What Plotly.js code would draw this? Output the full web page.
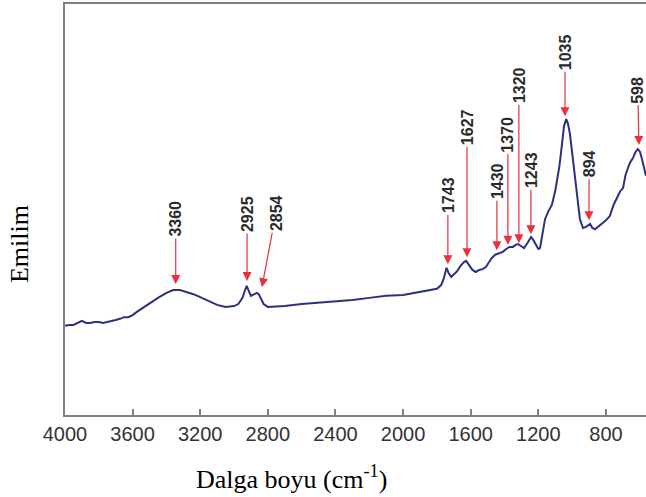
<!DOCTYPE html>
<html>
<head>
<meta charset="utf-8">
<script src="https://cdn.plot.ly/plotly-3.0.1.min.js"></script>
<style>html,body{margin:0;padding:0;background:#fff;}#chart{width:646px;height:497px;}</style>
</head>
<body>
<div id="chart"></div>
<script>
// Wavenumber (cm^-1)
const wavenumber = [4000,3975,3950,3925,3900,3875,3850,3825,3800,3775,3750,3725,3700,3675,3650,3625,3600,3575,3550,3525,3500,3450,3400,3360,3320,3280,3240,3200,3150,3100,3050,3000,2975,2950,2935,2925,2915,2900,2880,2865,2854,2840,2825,2800,2700,2600,2500,2400,2300,2200,2100,2000,1900,1850,1800,1775,1760,1743,1730,1715,1700,1680,1660,1640,1627,1610,1590,1570,1550,1530,1510,1495,1475,1455,1430,1410,1390,1370,1350,1335,1320,1300,1285,1265,1250,1243,1230,1215,1200,1190,1175,1160,1140,1120,1100,1090,1075,1060,1048,1035,1025,1013,1000,984,970,954,936,920,907,894,880,865,850,824,800,777,755,735,715,699,685,670,655,640,625,611,598,587,575,563];
// Emission (arbitrary units)
const emission = [21.7,21.9,21.9,22.4,22.9,22.4,22.4,22.6,22.6,22.4,22.6,22.9,23.1,23.4,23.8,23.8,24.3,25.1,25.8,26.5,27.3,28.5,29.7,30.4,30.4,29.9,29.4,28.7,27.7,26.8,26.3,26.5,27.0,28.5,30.4,31.4,30.4,29.0,29.4,29.7,29.4,28.2,27.0,26.3,26.5,27.0,27.3,27.7,28.0,28.5,29.0,29.2,29.9,30.2,30.7,31.6,33.1,35.8,34.5,33.6,34.3,35.0,36.3,37.2,37.5,36.5,35.3,34.8,35.3,35.5,36.0,37.0,38.2,39.0,39.4,39.7,40.4,40.9,40.9,41.4,41.6,40.9,40.6,41.8,43.1,43.3,42.6,41.6,40.4,40.6,44.3,47.7,49.6,51.1,54.5,56.9,60.6,65.9,70.3,72.0,71.0,68.4,64.2,58.6,53.3,47.7,45.5,45.7,46.0,46.5,45.5,45.2,45.7,46.5,47.4,48.4,51.1,52.8,54.5,55.2,58.2,60.1,61.6,62.5,64.0,64.7,64.0,62.3,60.3,58.2];
// Peak labels and where their arrows point
const peakLabels = ["3360","2925","2854","1743","1627","1430","1370","1320","1243","1035","894","598"];
const peakTipX = [3345,2923,2835,1735,1622,1445,1380,1315,1244,1042,900,605];
const peakTipY = [31.9,32.6,31.1,36.7,38.4,40.1,41.4,41.8,44.0,72.7,47.4,65.7];
const xTicks = [4000,3600,3200,2800,2400,2000,1600,1200,800];

// label offsets in pixels (layout only)
const offs = [[0,-65],[0,-67],[14,-74],[0,-69],[0,-130],[0,-69],[0,-110],[0,-158],[0,-64],[0,-64],[0,-56],[-1,-55]];

const annotations = peakLabels.map((t,i)=>({
  x: peakTipX[i], y: peakTipY[i], xref:'x', yref:'y',
  text: t, textangle: -90, showarrow: true,
  ax: offs[i][0], ay: offs[i][1], axref:'pixel', ayref:'pixel',
  arrowhead: 2, arrowsize: 1.5, arrowwidth: 1.2, arrowcolor: '#e8303f',
  font: {family: 'Liberation Sans, Arial, sans-serif', size: 16, color: '#2a2a2a', weight: 'bold'},
  borderpad: 1
}));
annotations.push({
  xref:'paper', yref:'paper', x:-0.0792, y:0.416, xanchor:'center', yanchor:'middle',
  text:'Emilim', textangle:-90, showarrow:false,
  font:{family:'Liberation Serif, Times New Roman, serif', size:26, color:'#000'}
});
annotations.push({
  xref:'paper', yref:'paper', x:0.3898, y:-0.151, xanchor:'center', yanchor:'middle',
  text:'Dalga boyu (cm<sup>-1</sup>)', showarrow:false,
  font:{family:'Liberation Serif, Times New Roman, serif', size:26, color:'#000'}
});

const trace = {
  x: wavenumber, y: emission, type:'scatter', mode:'lines',
  line:{color:'#2b3080', width:2}, hoverinfo:'skip'
};

const layout = {
  width:646, height:497,
  margin:{l:65, r:0, t:4, b:82},
  paper_bgcolor:'#fff', plot_bgcolor:'#fff',
  showlegend:false,
  xaxis:{
    range:[4000,563], tickvals:xTicks, ticktext:xTicks.map(String),
    ticks:'inside', ticklen:6, tickwidth:2, tickcolor:'#808080',
    showline:true, linecolor:'#808080', linewidth:2, mirror:true,
    showgrid:false, zeroline:false,
    tickfont:{family:'Liberation Sans, Arial, sans-serif', size:20, color:'#333333'}
  },
  yaxis:{
    range:[0,100], showticklabels:false, ticks:'',
    showline:true, linecolor:'#808080', linewidth:2, mirror:false,
    showgrid:false, zeroline:false
  },
  annotations: annotations
};

Plotly.newPlot('chart',[trace],layout,{displayModeBar:false, staticPlot:true});
</script>
</body>
</html>
